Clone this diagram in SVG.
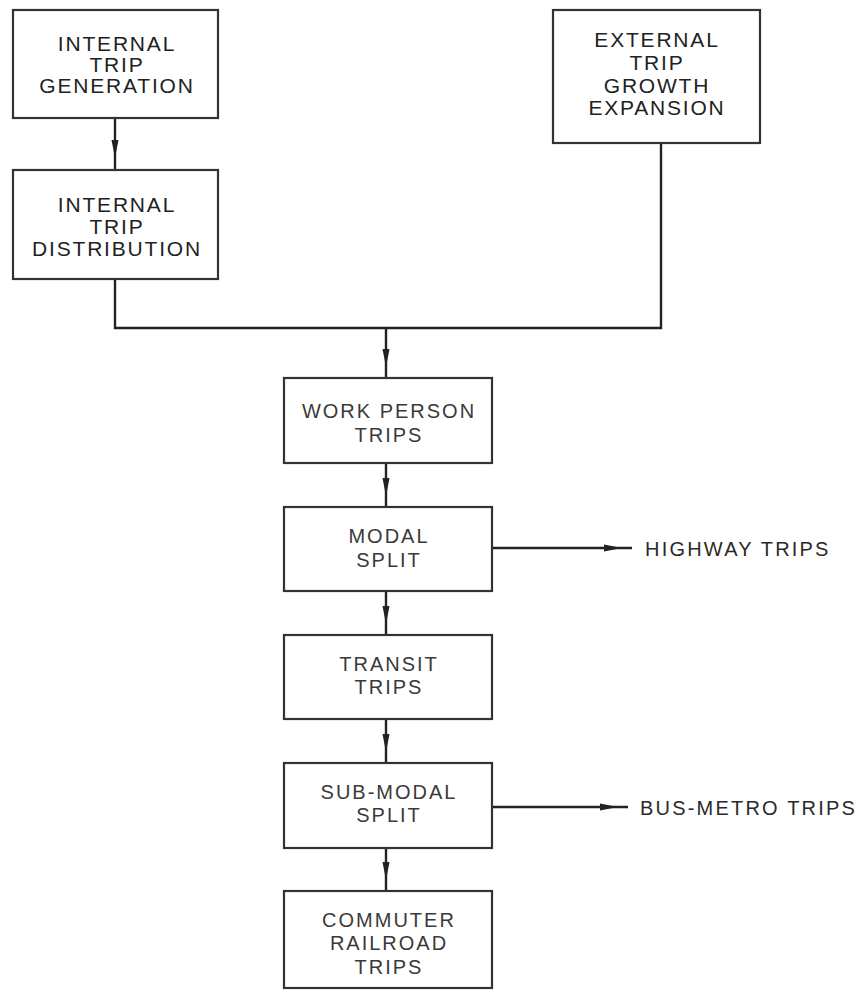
<svg xmlns="http://www.w3.org/2000/svg" width="861" height="996" viewBox="0 0 861 996">
<style>
.box{fill:#fff;stroke:#333;stroke-width:2.2}
.t1{font-family:"Liberation Sans",Arial,sans-serif;font-size:21px;letter-spacing:1.8px;fill:#222;text-anchor:middle}
.t2{font-family:"Liberation Sans",Arial,sans-serif;font-size:20px;letter-spacing:2px;fill:#3a3a3a;text-anchor:middle}
.lbl{font-family:"Liberation Sans",Arial,sans-serif;font-size:20px;letter-spacing:2.2px;fill:#2a2a2a}
.ln{fill:none;stroke:#222;stroke-width:2.4}
</style>
<defs>
<marker id="ah" markerUnits="userSpaceOnUse" markerWidth="20" markerHeight="10" viewBox="0 0 20 10" refX="18" refY="5" orient="auto">
<path d="M0,1.5 L18,5 L0,8.5 z" fill="#222"/>
</marker>
</defs>
<g id="connectors">
<path class="ln" d="M115,118 L115,158 L115,170" marker-mid="url(#ah)"/>
<path class="ln" d="M115,279 L115,328 L661,328 L661,143"/>
<path class="ln" d="M386,328 L386,367 L386,378" marker-mid="url(#ah)"/>
<path class="ln" d="M386,463 L386,496 L386,507" marker-mid="url(#ah)"/>
<path class="ln" d="M386,591 L386,624 L386,635" marker-mid="url(#ah)"/>
<path class="ln" d="M386,719 L386,752 L386,763" marker-mid="url(#ah)"/>
<path class="ln" d="M386,848 L386,880 L386,891" marker-mid="url(#ah)"/>
<path class="ln" d="M492,548 L622,548 L632,548" marker-mid="url(#ah)"/>
<path class="ln" d="M492,807 L618,807 L628,807" marker-mid="url(#ah)"/>
</g>
<g id="internal-generation">
<rect class="box" x="13" y="10" width="205" height="108"/>
<text class="t1" x="117" y="51">INTERNAL</text>
<text class="t1" x="117" y="72">TRIP</text>
<text class="t1" x="117" y="93">GENERATION</text>
</g>
<g id="internal-distribution">
<rect class="box" x="13" y="170" width="205" height="109"/>
<text class="t1" x="117" y="212">INTERNAL</text>
<text class="t1" x="117" y="234">TRIP</text>
<text class="t1" x="117" y="256">DISTRIBUTION</text>
</g>
<g id="external-growth">
<rect class="box" x="553" y="10" width="207" height="133"/>
<text class="t1" x="657" y="47">EXTERNAL</text>
<text class="t1" x="657" y="70">TRIP</text>
<text class="t1" x="657" y="93">GROWTH</text>
<text class="t1" x="657" y="115">EXPANSION</text>
</g>
<g id="work-person-trips">
<rect class="box" x="284" y="378" width="208" height="85"/>
<text class="t2" x="389" y="418">WORK PERSON</text>
<text class="t2" x="389" y="442">TRIPS</text>
</g>
<g id="modal-split">
<rect class="box" x="284" y="507" width="208" height="84"/>
<text class="t2" x="389" y="543">MODAL</text>
<text class="t2" x="389" y="567">SPLIT</text>
</g>
<g id="transit-trips">
<rect class="box" x="284" y="635" width="208" height="84"/>
<text class="t2" x="389" y="671">TRANSIT</text>
<text class="t2" x="389" y="694">TRIPS</text>
</g>
<g id="sub-modal-split">
<rect class="box" x="284" y="763" width="208" height="85"/>
<text class="t2" x="389" y="799">SUB-MODAL</text>
<text class="t2" x="389" y="822">SPLIT</text>
</g>
<g id="commuter-railroad-trips">
<rect class="box" x="284" y="891" width="208" height="97"/>
<text class="t2" x="389" y="927">COMMUTER</text>
<text class="t2" x="389" y="950">RAILROAD</text>
<text class="t2" x="389" y="974">TRIPS</text>
</g>
<g id="highway-trips">
<text class="lbl" x="645" y="556">HIGHWAY TRIPS</text>
</g>
<g id="bus-metro-trips">
<text class="lbl" x="640" y="815">BUS-METRO TRIPS</text>
</g>
</svg>
